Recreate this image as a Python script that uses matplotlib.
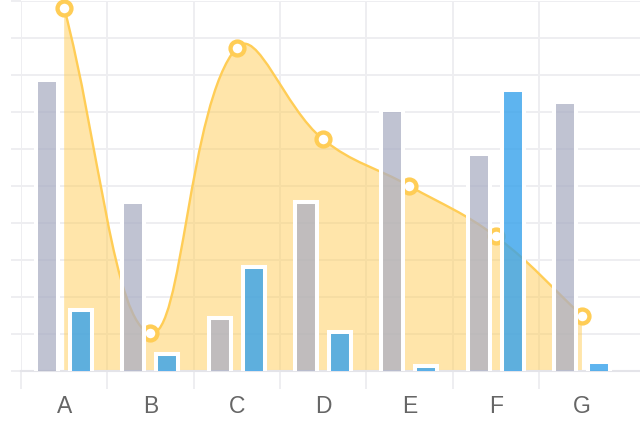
import numpy as np
import matplotlib.pyplot as plt
from matplotlib.path import Path
from matplotlib.patches import PathPatch

# data (0-100 scale)
labels = ['A', 'B', 'C', 'D', 'E', 'F', 'G']
line_values = [98.1, 10.2, 87.4, 62.6, 50.0, 36.4, 15.0]
grey_values = [78.6, 45.7, 14.3, 45.7, 70.5, 58.6, 72.7]
blue_values = [16.5, 4.6, 28.1, 10.5, 1.4, 75.9, 2.4]

yellow = (255/255, 205/255, 86/255)
yellow_fill = (255/255, 205/255, 86/255, 0.5)
grey = (171/255, 175/255, 196/255, 0.75)
blue = (54/255, 162/255, 235/255, 0.8)
grid_color = '#eeeef1'

fig = plt.figure(figsize=(6.4, 4.26), dpi=100)
W, H = 640, 426
left_px, right_px, top_px, base_px = 21, 640, 1, 371
ax = fig.add_axes([left_px / W, (H - base_px) / H,
                   (right_px - left_px) / W, (base_px - top_px) / H])
ax.set_xlim(-0.5, -0.5 + (right_px - left_px) / 86.3)
ax.set_ylim(0, 100)

x = np.arange(len(labels))


def spline_path(xs, ys, t=0.4):
    # Chart.js style bezier through the points (computed in pixel space)
    pts = ax.transData.transform(np.column_stack([xs, ys]))
    n = len(pts)
    bb = ax.bbox
    c_prev, c_next = [], []
    for i in range(n):
        prev = pts[max(i - 1, 0)]
        cur = pts[i]
        nxt = pts[min(i + 1, n - 1)]
        d01 = np.hypot(*(cur - prev))
        d12 = np.hypot(*(nxt - cur))
        s = d01 + d12
        s01 = d01 / s if s else 0
        s12 = d12 / s if s else 0
        p = cur - t * s01 * (nxt - prev)
        q = cur + t * s12 * (nxt - prev)
        for c in (p, q):
            c[0] = min(max(c[0], bb.x0), bb.x1)
            c[1] = min(max(c[1], bb.y0), bb.y1)
        c_prev.append(p)
        c_next.append(q)
    verts = [pts[0]]
    codes = [Path.MOVETO]
    for i in range(n - 1):
        verts += [c_next[i], c_prev[i + 1], pts[i + 1]]
        codes += [Path.CURVE4] * 3
    verts = ax.transData.inverted().transform(np.array(verts))
    return verts, codes


verts, codes = spline_path(x, line_values)
fill_verts = np.vstack([verts, [[x[-1], 0], [x[0], 0], [x[0], 0]]])
fill_codes = codes + [Path.LINETO, Path.LINETO, Path.CLOSEPOLY]
ax.add_patch(PathPatch(Path(fill_verts, fill_codes), facecolor=yellow_fill,
                       edgecolor='none', zorder=1))
ax.add_patch(PathPatch(Path(verts, codes), fill=False, edgecolor=yellow,
                       lw=1.7, zorder=2))
ax.plot(x, line_values, 'o', ms=10, mfc='white', mec=yellow, mew=3.1,
        zorder=3, clip_on=False)

bw = 22 / 86.3
off = 17 / 86.3
bottom = -3
ax.bar(x - off, np.array(grey_values) - bottom, bottom=bottom, width=bw,
       color=grey, edgecolor='white', linewidth=2.9, zorder=4)
ax.bar(x + off, np.array(blue_values) - bottom, bottom=bottom, width=bw,
       color=blue, edgecolor='white', linewidth=2.9, zorder=4)

# grid and ticks
ax.set_yticks(range(0, 101, 10))
ax.yaxis.grid(True, color=grid_color, lw=1.4, zorder=0)
ax.tick_params(axis='y', length=7.2, width=1.4, color=grid_color,
               labelleft=False)
ax.set_xticks(x)
ax.set_xticklabels(labels, fontsize=16.5, color='#666666',
                   family='Liberation Sans')
ax.set_xticks(np.arange(-0.5, 6, 1), minor=True)
ax.xaxis.grid(True, which='minor', color=grid_color, lw=1.4, zorder=0)
ax.tick_params(axis='x', which='major', length=0, pad=17.5)
ax.tick_params(axis='x', which='minor', length=13, width=1.4,
               color=grid_color)
ax.set_axisbelow(True)
for s in ['top', 'right', 'left']:
    ax.spines[s].set_visible(False)
ax.spines['bottom'].set_color('#e4e4e9')
ax.spines['bottom'].set_linewidth(1.5)

fig.savefig('out.png', dpi=100)
